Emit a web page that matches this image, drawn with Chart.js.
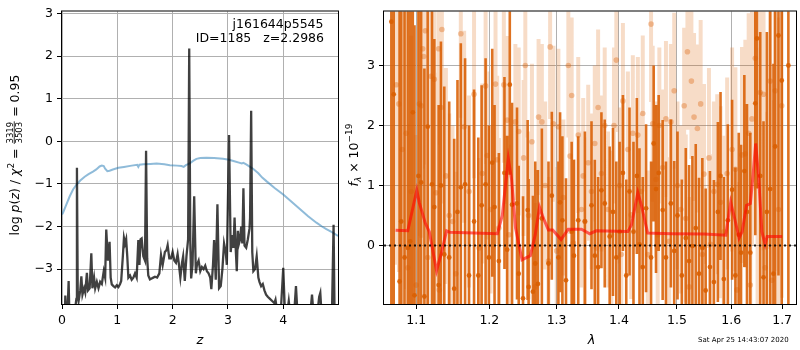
<!DOCTYPE html>
<html>
<head>
<meta charset="utf-8">
<script src="https://cdn.jsdelivr.net/npm/chart.js@4.4.1/dist/chart.umd.min.js"></script>
<style>
  html, body { margin: 0; padding: 0; background: #fff; }
  #wrap { position: relative; width: 800px; height: 350px; overflow: hidden; }
  canvas { position: absolute; top: 0; }
  #pz { left: 0; }
  #spec { left: 345px; }
</style>
</head>
<body>
<div id="wrap">
  <canvas id="pz" width="345" height="350"></canvas>
  <canvas id="spec" width="455" height="350"></canvas>
</div>
<script>
// ---------- redshift probability panel ----------
const zTicks = [0, 1, 2, 3, 4];
const logpTicks = [-3, -2, -1, 0, 1, 2, 3];

// jagged log p(z) from the grism fit
const zFit = [0.00,0.05,0.06,0.075,0.10,0.12,0.135,0.20,0.24,0.26,0.27,0.285,0.30,0.33,0.35,0.37,0.40,0.42,0.45,0.47,
  0.50,0.53,0.55,0.58,0.60,0.63,0.66,0.69,0.72,0.755,0.78,0.80,0.83,0.86,0.88,0.90,0.93,0.96,0.99,1.02,
  1.05,1.07,1.10,1.12,1.14,1.16,1.18,1.20,1.23,1.26,1.29,1.32,1.35,1.38,1.40,1.42,1.44,1.47,1.50,1.52,
  1.54,1.56,1.59,1.62,1.65,1.68,1.72,1.76,1.79,1.82,1.86,1.89,1.91,1.94,1.97,2.00,2.03,2.06,2.09,2.11,
  2.14,2.17,2.19,2.22,2.25,2.28,2.30,2.32,2.335,2.36,2.39,2.42,2.44,2.47,2.50,2.53,2.56,2.59,2.62,2.65,
  2.68,2.70,2.73,2.75,2.78,2.81,2.84,2.87,2.90,2.93,2.96,2.98,3.02,3.05,3.08,3.10,3.12,3.14,3.16,3.18,
  3.20,3.22,3.24,3.26,3.28,3.30,3.33,3.36,3.39,3.40,3.42,3.44,3.46,3.49,3.52,3.55,3.57,3.60,3.63,3.66,
  3.69,3.72,3.76,3.80,3.84,3.86,3.88,3.92,3.96,4.00,4.03,4.08,4.10,4.13,4.20,4.23,4.26,4.35,4.45,4.50,
  4.52,4.55,4.62,4.65,4.67,4.70,4.80,4.88,4.91,4.93,4.99];
const logpFit = [-4.5,-4.2,-3.62,-4.1,-4.0,-3.28,-4.2,-4.3,-3.9,-3.7,-0.62,-3.6,-3.75,-3.5,-3.17,-3.6,-3.45,-3.55,-3.09,-3.5,
  -3.45,-2.63,-3.45,-3.2,-3.45,-3.3,-3.45,-3.3,-3.35,-3.05,-3.2,-2.07,-2.8,-2.36,-3.2,-3.36,-3.4,-3.43,-3.38,-3.42,
  -3.35,-3.28,-2.7,-2.27,-2.4,-2.3,-2.7,-3.2,-3.15,-3.25,-3.2,-3.1,-3.2,-2.32,-2.9,-2.3,-2.28,-2.7,-2.8,-0.22,
  -2.75,-3.15,-3.24,-3.22,-3.2,-3.18,-3.2,-3.1,-2.67,-2.9,-2.6,-2.55,-2.44,-2.75,-2.75,-2.6,-2.8,-2.85,-2.65,-2.85,
  -3.2,-2.85,-2.7,-3.28,-2.7,-2.3,2.18,-2.4,-3.22,-2.9,-1.29,-3.1,-2.9,-2.8,-3.05,-2.95,-3.0,-2.92,-3.05,-3.1,
  -3.2,-3.47,-2.9,-2.32,-3.25,-1.48,-3.45,-3.4,-3.0,-2.4,-2.6,-2.9,0.15,-2.6,-2.2,-2.5,-1.79,-2.5,-3.05,-2.1,
  -2.4,-2.3,-2.0,-2.4,-1.1,-2.45,-2.5,-2.3,-2.05,-1.8,0.72,-2.6,-3.05,-3.0,-2.7,-3.2,-3.3,-3.4,-3.35,-3.5,
  -3.6,-3.65,-3.7,-3.75,-3.8,-3.72,-3.9,-4.0,-3.9,-2.97,-4.0,-3.95,-3.75,-4.1,-4.0,-3.4,-4.1,-4.2,-4.1,-3.9,
  -3.6,-4.1,-4.0,-3.65,-3.56,-4.2,-4.3,-4.1,-1.96,-4.3,-4.5];

// smooth prior curve
const zPrior = [0.0,0.02,0.08,0.14,0.20,0.26,0.33,0.41,0.48,0.56,0.62,0.68,0.72,0.755,0.78,0.82,0.86,0.92,1.02,1.12,
  1.26,1.36,1.38,1.40,1.47,1.60,1.71,1.85,1.95,2.08,2.16,2.20,2.24,2.31,2.37,2.43,2.50,2.61,2.75,2.91,
  3.02,3.10,3.20,3.25,3.28,3.33,3.40,3.46,3.55,3.62,3.70,3.85,4.00,4.15,4.30,4.45,4.60,4.70,4.78,4.88,4.99];
const logpPrior = [-1.72,-1.67,-1.48,-1.29,-1.13,-1.02,-0.92,-0.83,-0.77,-0.71,-0.66,-0.59,-0.57,-0.58,-0.64,-0.70,-0.69,-0.66,-0.62,-0.60,
  -0.57,-0.55,-0.60,-0.55,-0.54,-0.53,-0.52,-0.54,-0.56,-0.57,-0.58,-0.60,-0.56,-0.52,-0.46,-0.41,-0.39,-0.385,-0.39,-0.41,
  -0.43,-0.46,-0.50,-0.52,-0.505,-0.54,-0.60,-0.65,-0.75,-0.85,-0.94,-1.10,-1.25,-1.42,-1.59,-1.76,-1.91,-2.00,-2.06,-2.13,-2.22];

// ---------- spectrum panel ----------
const lamTicks = [1.1, 1.2, 1.3, 1.4, 1.5, 1.6, 1.7];
const fluxTicks = [0, 1, 2, 3];
const LAM_MIN = 1.0587, LAM_MAX = 1.7283;

// first grism orientation (strong points)
const lamG1 = [1.068,1.071,1.0785,1.0806,1.0849,1.0892,1.0922,1.0956,1.0978,1.1030,
  1.1065,1.1108,1.1152,1.1209,1.1240,1.1298,1.1329,1.1374,1.1441,1.1509,
  1.1554,1.1600,1.1659,1.1714,1.1784,1.1844,1.1891,1.1947,1.1994,1.2042,
  1.2075,1.2137,1.2218,1.2257,1.2296,1.2329,1.2402,1.2427,1.2491,1.2560,
  1.2574,1.2639,1.2674,1.2714,1.2774,1.2875,1.2926,1.3028,1.3054,1.3090,
  1.3146,1.3235,1.3271,1.3339,1.3445,1.3551,1.3604,1.3658,1.3712,1.3766,
  1.3847,1.3902,1.3957,1.4012,1.4067,1.4123,1.4178,1.4245,1.4302,1.4347,
  1.4403,1.4460,1.4546,1.4591,1.4632,1.4678,1.4748,1.4806,1.4893,1.4952,
  1.5011,1.5088,1.5159,1.5219,1.5279,1.5340,1.5400,1.5461,1.5522,1.5601,
  1.5675,1.5749,1.5799,1.5861,1.5937,1.6018,1.6081,1.6145,1.6189,1.6253,
  1.6304,1.6369,1.6466,1.6498,1.6563,1.6628,1.6694,1.6760,1.6826,1.6859,
  1.6926,1.6992,1.7127];
const fluxG1 = [3.73,2.52,-0.6,0.4,-0.2,-0.04,0.07,2.22,-0.83,1.16,
  1.05,-0.85,1.98,1.02,0.64,-0.66,1.0,-0.15,-0.2,-0.72,
  0.56,0.97,1.02,-0.5,0.4,-0.5,0.67,1.02,-0.2,1.38,
  0.64,-0.26,1.21,-0.07,2.68,0.68,0.70,-0.47,-0.88,0.59,
  -0.69,-0.77,-0.3,-0.64,0.45,-0.3,0.83,-0.2,0.72,0.42,
  -0.58,0.23,-0.17,0.42,0.4,0.67,-0.17,-0.36,0.92,0.70,
  0.15,0.56,-0.2,0.23,1.21,-0.5,0.9,0.23,1.16,0.02,
  -0.36,0.62,-0.2,1.70,0.94,1.21,0.59,-0.2,0.70,-0.09,
  0.5,-0.5,0.125,-0.26,-0.01,0.29,-0.47,-0.04,-0.75,-0.36,
  -0.61,0.56,1.16,-0.56,0.42,0.93,-0.5,0.18,-0.12,1.24,
  0.56,-0.12,2.37,3.45,1.16,-0.53,0.56,0.94,-0.47,1.65,
  3.5,2.75,3.0];
const errG1 = [5,5,5,4.5,4.5,4.5,4,4,4.5,3.5,
  3.5,3.8,3.2,3.0,2.8,3.0,2.4,2.8,2.6,2.5,
  2.2,2.4,2.1,2.5,2.2,2.3,2.0,2.1,2.2,1.9,
  1.7,1.8,1.6,1.9,1.5,1.7,1.6,1.8,1.7,1.5,
  1.8,1.6,1.7,1.9,1.5,1.7,1.4,1.6,1.5,1.4,
  1.7,1.5,1.6,1.4,1.5,1.4,1.6,1.5,1.3,1.4,
  1.5,1.4,1.6,1.5,1.3,1.6,1.4,1.5,1.3,1.6,
  1.5,1.4,1.6,1.3,1.4,1.3,1.5,1.6,1.4,1.5,
  1.4,1.6,1.5,1.6,1.5,1.4,1.6,1.5,1.7,1.6,
  1.7,1.5,1.4,1.7,1.6,1.5,1.8,1.7,1.8,1.6,
  1.8,2.0,2.2,2.5,2.4,2.6,3.0,3.2,3.5,3.5,
  4.0,4.5,5];

// second grism orientation (faint points)
const lamG2 = [1.0743,1.0777,1.0819,1.0870,1.0892,1.0935,1.0999,1.1043,1.1065,1.1086,
  1.1099,1.1121,1.1152,1.1196,1.1240,1.1262,1.1298,1.1307,1.1329,1.1342,
  1.1396,1.1441,1.1486,1.1531,1.1600,1.1646,1.1714,1.1784,1.1854,1.1900,
  1.1947,1.1971,1.2018,1.2089,1.2113,1.2137,1.2209,1.2257,1.2281,1.2378,
  1.2427,1.2500,1.2525,1.2574,1.2624,1.2674,1.2724,1.2774,1.2824,1.2875,
  1.2900,1.2951,1.3002,1.3028,1.3105,1.3183,1.3209,1.3235,1.3261,1.3339,
  1.3392,1.3418,1.3445,1.3498,1.3551,1.3604,1.3631,1.3658,1.3712,1.3766,
  1.3820,1.3875,1.3918,1.3957,1.4012,1.4040,1.4067,1.4150,1.4206,1.4234,
  1.4319,1.4375,1.4403,1.4489,1.4546,1.4574,1.4632,1.4661,1.4690,1.4748,
  1.4806,1.4864,1.4893,1.4952,1.5011,1.5070,1.5130,1.5159,1.5189,1.5219,
  1.5261,1.5309,1.5370,1.5430,1.5461,1.5491,1.5583,1.5614,1.5675,1.5737,
  1.5799,1.5861,1.5924,1.6018,1.6081,1.6113,1.6208,1.6272,1.6337,1.6369,
  1.6401,1.6466,1.6511,1.6563,1.6628,1.6661,1.6760,1.6793,1.6859,1.6926,
  1.6992];
const fluxG2 = [2.68,2.36,1.6,1.87,-0.37,0.9,-0.66,2.36,2.33,3.28,
  3.15,3.58,-0.2,2.82,2.77,0.88,3.28,-0.74,2.3,3.6,
  1.16,0.5,0.4,-0.47,3.53,1.98,0.9,2.52,-0.04,1.2,
  2.66,1.5,0.6,2.69,1.43,0.29,2.68,2.09,0.18,2.06,
  1.9,1.46,3.0,0.5,1.73,-0.69,2.14,2.06,1.0,-0.26,
  3.31,2.03,-0.09,1.98,0.8,3.0,1.49,2.5,0.04,1.84,
  0.6,1.16,0.4,1.38,0.9,1.7,-0.04,2.3,1.2,2.0,
  0.6,0.18,2.0,3.09,1.0,-0.15,2.41,1.6,0.51,1.87,
  1.84,0.9,2.2,-0.15,3.69,2.03,1.1,0.18,2.0,1.3,
  2.11,0.07,2.06,2.58,1.0,0.6,2.33,0.45,3.23,-0.69,
  2.74,2.14,1.95,2.36,-0.15,1.19,1.46,0.02,0.9,1.02,
  0.72,0.23,1.2,1.6,1.27,-0.74,1.51,1.53,1.87,-0.66,
  2.11,3.12,1.0,2.55,2.52,-0.37,2.74,-0.58,2.58,0.6,
  2.33];
const errG2 = [3.0,2.8,2.6,2.6,2.4,2.6,2.5,2.2,2.2,2.0,
  1.8,1.8,2.2,1.8,1.7,2.0,1.6,2.0,1.6,1.5,
  1.8,1.7,1.6,1.7,1.4,1.6,1.6,1.4,1.5,1.5,
  1.3,1.4,1.4,1.3,1.4,1.5,1.3,1.4,1.5,1.3,
  1.4,1.3,1.2,1.4,1.3,1.4,1.3,1.3,1.4,1.4,
  1.2,1.3,1.4,1.3,1.3,1.2,1.3,1.3,1.4,1.3,
  1.3,1.3,1.4,1.3,1.3,1.3,1.4,1.3,1.3,1.3,
  1.3,1.4,1.3,1.2,1.3,1.4,1.3,1.3,1.4,1.3,
  1.3,1.3,1.3,1.4,1.3,1.3,1.3,1.4,1.3,1.3,
  1.3,1.4,1.3,1.3,1.4,1.4,1.3,1.4,1.3,1.5,
  1.3,1.4,1.4,1.4,1.5,1.5,1.5,1.5,1.5,1.5,
  1.6,1.6,1.6,1.7,1.7,1.8,1.8,1.9,2.0,2.0,
  2.1,2.2,2.3,2.4,2.6,2.6,2.8,3.0,3.0,3.2,
  3.2];

// best-fit line model
const lamModel = [1.0734,1.0891,1.1008,1.104,1.1121,1.1173,1.1270,1.1330,1.1405,1.145,
  1.2115,1.2187,1.2274,1.2322,1.2380,1.2476,1.2600,1.2674,1.2738,1.2799,
  1.2874,1.294,1.3069,1.318,1.3390,1.3523,1.3628,1.4150,1.421,1.4319,
  1.438,1.4487,1.4896,1.5496,1.5897,1.5991,1.6067,1.6151,1.621,1.6295,
  1.637,1.6421,1.6473,1.653,1.6595,1.666,1.670,1.70];
const fluxModel = [0.256,0.245,0.92,0.72,0.37,0.23,-0.42,-0.15,0.245,0.22,
  0.196,0.5,1.45,1.10,0.29,-0.24,-0.17,0.18,0.64,0.45,
  0.26,0.26,0.10,0.27,0.27,0.196,0.245,0.234,0.34,0.88,
  0.67,0.207,0.196,0.19,0.17,0.72,0.45,0.125,0.23,0.67,
  0.70,1.16,1.70,1.16,0.23,0.02,0.15,0.15];

// ---------- helpers ----------
const FONT = '"DejaVu Sans", sans-serif';
const FS = 12.5;
Chart.defaults.font.family = FONT;
Chart.defaults.font.size = FS;
Chart.defaults.color = '#000';

const minus = v => (v < 0 ? '\u2212' + Math.abs(v) : String(v));
const pts = (xs, ys) => xs.map((x, i) => ({ x: x, y: ys[i] }));

// vertical error bars as broken line segments
function errSegments(xs, ys, es) {
  const out = [];
  xs.forEach((x, i) => {
    out.push({ x: x, y: ys[i] - es[i] });
    out.push({ x: x, y: ys[i] + es[i] });
    out.push({ x: x, y: null });
  });
  return out;
}

function fontStr(size, italic) {
  return (italic ? 'italic ' : '') + size + 'px ' + FONT;
}

// draws a run of text pieces (normal, italic, raised, fraction) centred on cx
function drawRuns(ctx, runs, cx, base) {
  const widths = runs.map(r => {
    if (r.frac) {
      ctx.font = fontStr(r.size, false);
      return Math.max(ctx.measureText(r.frac[0]).width, ctx.measureText(r.frac[1]).width) + 2;
    }
    ctx.font = fontStr(r.size, r.italic);
    return ctx.measureText(r.text).width;
  });
  const total = widths.reduce((a, b) => a + b, 0);
  let x = cx - total / 2;
  ctx.textBaseline = 'alphabetic';
  runs.forEach((r, i) => {
    const w = widths[i];
    if (r.frac) {
      ctx.font = fontStr(r.size, false);
      ctx.textAlign = 'center';
      ctx.fillText(r.frac[0], x + w / 2, base - 5.5);
      ctx.fillText(r.frac[1], x + w / 2, base + 3);
      ctx.fillRect(x + 0.5, base - 4.7, w - 1, 0.8);
    } else {
      ctx.font = fontStr(r.size, r.italic);
      ctx.textAlign = 'left';
      ctx.fillText(r.text, x, base + (r.dy || 0));
    }
    x += w;
  });
}

// axes frame on all four sides
const frame = {
  id: 'frame',
  afterDatasetsDraw(chart) {
    const a = chart.chartArea, c = chart.ctx;
    c.save();
    c.strokeStyle = '#000';
    c.lineWidth = 1;
    c.strokeRect(a.left - 0.5, a.top - 0.5, a.right - a.left + 1, a.bottom - a.top + 1);
    c.restore();
  }
};

function axisCommon(ticksArr, fmt, fitFn, pad) {
  return {
    afterBuildTicks: s => { s.ticks = ticksArr.map(v => ({ value: v })); },
    afterFit: fitFn,
    ticks: { callback: fmt, autoSkip: false, maxRotation: 0, minRotation: 0, padding: pad, color: '#000', font: { size: FS } },
    grid: { color: '#b0b0b0', lineWidth: 1, tickColor: '#000', tickLength: 5, drawTicks: true },
    border: { display: false }
  };
}

// ---------- left chart ----------
const pzLabels = {
  id: 'pzLabels',
  afterDraw(chart) {
    const c = chart.ctx;
    c.save();
    c.fillStyle = '#000';
    c.font = fontStr(FS, false);
    c.textAlign = 'right';
    c.textBaseline = 'alphabetic';
    c.fillText('j161644p5545', 323.5, 27.5);
    c.fillText('ID=1185   z=2.2986', 324, 42);
    c.font = fontStr(FS + 0.5, true);
    c.textAlign = 'center';
    c.fillText('z', 200, 343.5);
    c.translate(18.5, 155);
    c.rotate(-Math.PI / 2);
    drawRuns(c, [
      { text: 'log ', size: FS },
      { text: 'p', size: FS, italic: true },
      { text: '(', size: FS },
      { text: 'z', size: FS, italic: true },
      { text: ') / ', size: FS },
      { text: '\u03c7', size: FS, italic: true },
      { text: '2', size: 9, dy: -5 },
      { text: ' = ', size: FS },
      { frac: ['3319', '3503'], size: 8.5 },
      { text: ' = 0.95', size: FS }
    ], 0, 0);
    c.restore();
  }
};

new Chart(document.getElementById('pz'), {
  type: 'line',
  data: {
    datasets: [
      { data: pts(zFit, logpFit), borderColor: 'rgba(0,0,0,0.75)', borderWidth: 2.3, pointRadius: 0, tension: 0, clip: 0 },
      { data: pts(zPrior, logpPrior), borderColor: 'rgba(31,119,180,0.5)', borderWidth: 2, pointRadius: 0, tension: 0, clip: 0 }
    ]
  },
  options: {
    responsive: false,
    animation: false,
    events: [],
    layout: { padding: { top: 5, right: 7, left: 0, bottom: 0 } },
    plugins: { legend: { display: false }, tooltip: { enabled: false } },
    scales: {
      x: Object.assign({ type: 'linear', min: 0, max: 4.99 },
        axisCommon(zTicks, v => minus(v), s => { s.height = 46; }, 4)),
      y: Object.assign({ type: 'linear', min: -3.82, max: 3.05 },
        axisCommon(logpTicks, v => minus(v), s => { s.width = 62; }, 4))
    }
  },
  plugins: [frame, pzLabels]
});

// ---------- right chart ----------
const specLabels = {
  id: 'specLabels',
  afterDraw(chart) {
    const c = chart.ctx;
    c.save();
    c.fillStyle = '#000';
    c.font = fontStr(FS + 0.5, true);
    c.textAlign = 'center';
    c.textBaseline = 'alphabetic';
    c.fillText('\u03bb', 246.5, 343.5);
    c.font = fontStr(7, false);
    c.textAlign = 'left';
    c.fillText('Sat Apr 25 14:43:07 2020', 353, 341.5);
    c.translate(12.5, 155);
    c.rotate(-Math.PI / 2);
    drawRuns(c, [
      { text: 'f', size: FS, italic: true },
      { text: '\u03bb', size: 9, italic: true, dy: 3 },
      { text: ' \u00d7 10', size: FS },
      { text: '\u221219', size: 9, dy: -5.5 }
    ], 0, 0);
    c.restore();
  }
};

const ORANGE = '217,95,2';
new Chart(document.getElementById('spec'), {
  type: 'line',
  data: {
    datasets: [
      { data: [{ x: LAM_MIN, y: 0 }, { x: LAM_MAX, y: 0 }], borderColor: 'rgba(0,0,0,0.85)', borderWidth: 2,
        borderDash: [2, 3], pointRadius: 0, clip: 0 },
      { data: pts(lamModel, fluxModel), borderColor: 'rgba(255,0,0,0.6)', borderWidth: 3, pointRadius: 0, tension: 0, clip: 0 },
      { data: pts(lamG1, fluxG1), showLine: false, pointRadius: 2.4, pointBorderWidth: 0,
        pointBackgroundColor: 'rgba(' + ORANGE + ',0.9)', clip: 0 },
      { data: errSegments(lamG1, fluxG1, errG1), borderColor: 'rgba(' + ORANGE + ',0.88)', borderWidth: 2.6,
        pointRadius: 0, spanGaps: false, clip: 0, borderCapStyle: 'butt' },
      { data: pts(lamG2, fluxG2), showLine: false, pointRadius: 2.8, pointBorderWidth: 0,
        pointBackgroundColor: 'rgba(' + ORANGE + ',0.35)', clip: 0 },
      { data: errSegments(lamG2, fluxG2, errG2), borderColor: 'rgba(' + ORANGE + ',0.22)', borderWidth: 4,
        pointRadius: 0, spanGaps: false, clip: 0, borderCapStyle: 'butt' }
    ]
  },
  options: {
    responsive: false,
    animation: false,
    events: [],
    layout: { padding: { top: 5, right: 1, left: 0, bottom: 0 } },
    plugins: { legend: { display: false }, tooltip: { enabled: false } },
    scales: {
      x: Object.assign({ type: 'logarithmic', min: LAM_MIN, max: LAM_MAX },
        axisCommon(lamTicks, v => Number(v).toFixed(1), s => { s.height = 46; }, 4)),
      y: Object.assign({ type: 'linear', min: -0.975, max: 3.9 },
        axisCommon(fluxTicks, v => minus(v), s => { s.width = 39; }, 4))
    }
  },
  plugins: [frame, specLabels]
});
</script>
</body>
</html>
